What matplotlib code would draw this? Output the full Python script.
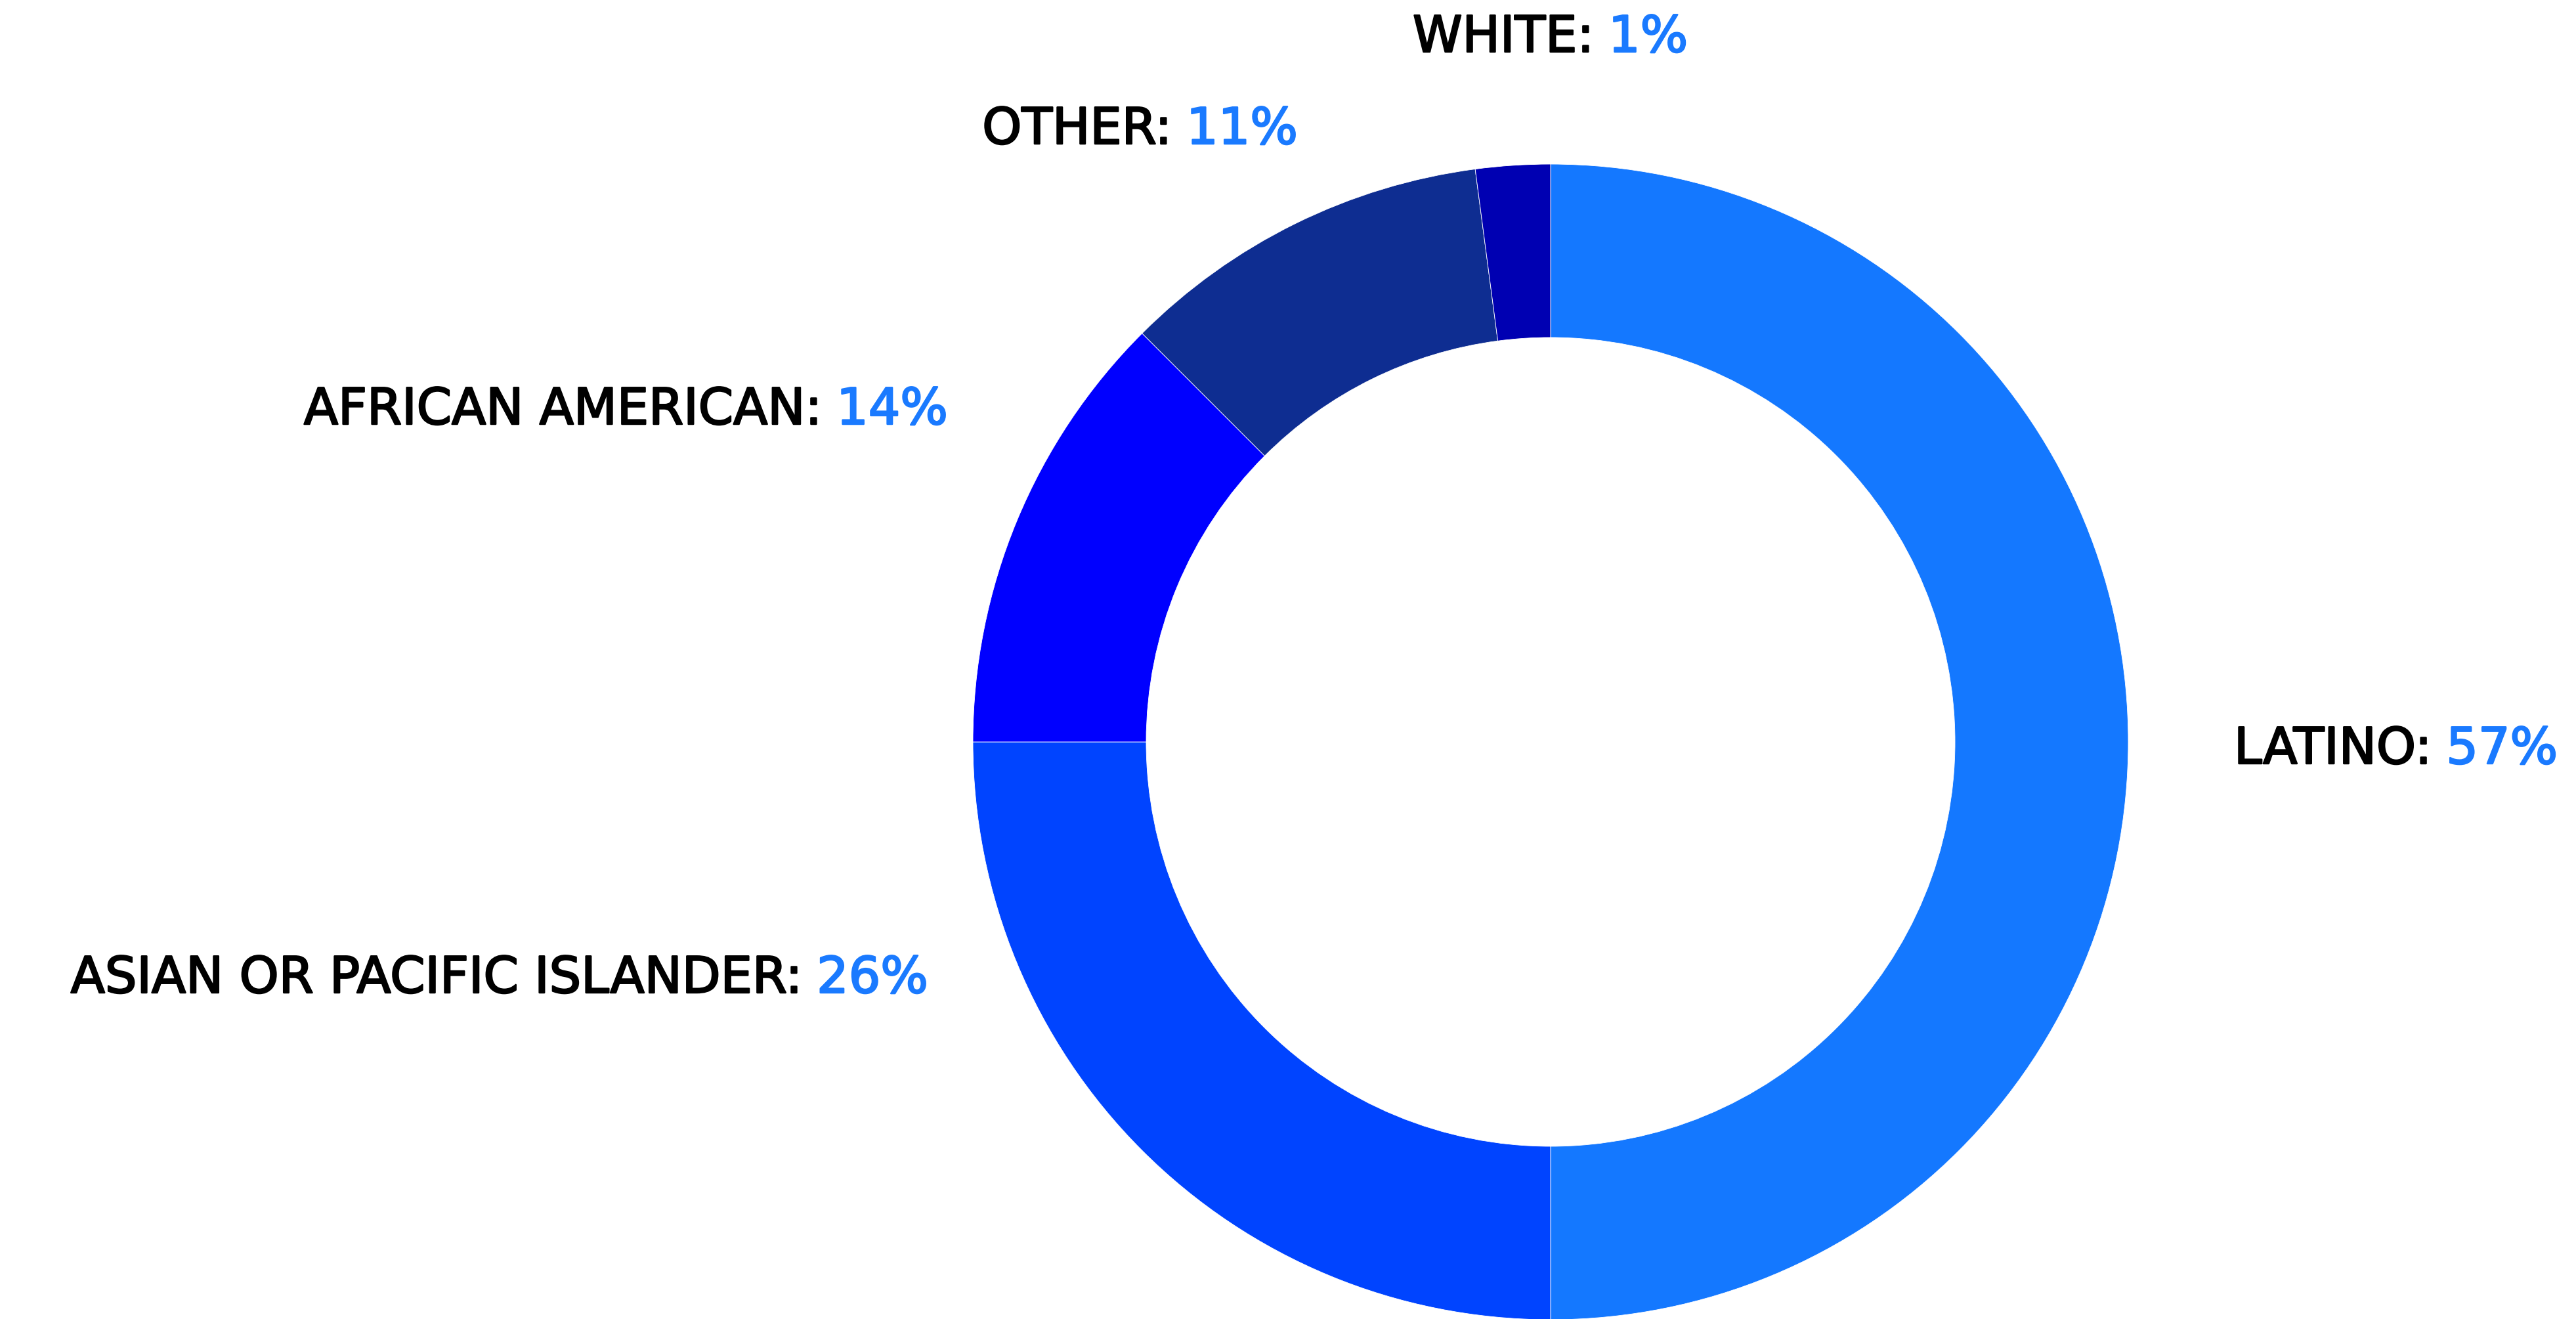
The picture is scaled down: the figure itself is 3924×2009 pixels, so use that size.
import matplotlib
matplotlib.use("Agg")
import matplotlib.pyplot as plt
import matplotlib.patheffects as pe
from matplotlib.transforms import IdentityTransform

# groups, clockwise from 12 o'clock
groups = ["LATINO", "ASIAN OR PACIFIC ISLANDER", "AFRICAN AMERICAN", "OTHER", "WHITE"]
# share of the ring each wedge takes in the picture (arc size)
arc_share = [24, 12, 6, 5, 1]
# percentages as printed on the labels
pct_labels = [57, 26, 14, 11, 1]
colors = ["#1478FF", "#0044FF", "#0000FF", "#0E2D91", "#0000B2"]

W, H = 3924, 2009
fig = plt.figure(figsize=(W / 100, H / 100), dpi=100)
fig.patch.set_facecolor("white")

# ring: centre (2362, 1130) px from top, outer radius 880 px
cx, cy, r = 2362, 1130, 880
ax = fig.add_axes([(cx - r) / W, (H - cy - r) / H, 2 * r / W, 2 * r / H])
ax.pie(arc_share, colors=colors, startangle=90, counterclock=False,
       wedgeprops=dict(width=0.3, edgecolor="white", linewidth=0.6))
ax.set_xlim(-1, 1)
ax.set_ylim(-1, 1)
ax.set_aspect("auto")
ax.axis("off")

# label anchors (x px, baseline px from top, alignment)
label_pos = [(3403, 1163, "left"), (1414, 1512, "right"), (1444, 646, "right"),
             (1977, 219, "right"), (2152, 79, "left")]

fs = 55
gap = 22
renderer = fig.canvas.get_renderer()


def txt(x, y, s, color, ha):
    # a touch heavier than plain DejaVu, closer to the medium weight in the original
    return fig.text(x, y, s, color=color, ha=ha, fontsize=fs, family="DejaVu Sans",
                    va="baseline", transform=IdentityTransform(),
                    path_effects=[pe.withStroke(linewidth=1.8, foreground=color)])


for name, pct, (x, y, ha) in zip(groups, pct_labels, label_pos):
    yy = H - y
    if ha == "left":
        t1 = txt(x, yy, name + ":", "black", "left")
        w1 = t1.get_window_extent(renderer).width
        txt(x + w1 + gap, yy, f"{pct}%", "#1A7AFF", "left")
    else:
        t2 = txt(x, yy, f"{pct}%", "#1A7AFF", "right")
        w2 = t2.get_window_extent(renderer).width
        txt(x - w2 - gap, yy, name + ":", "black", "right")

fig.savefig("out.png", dpi=100, facecolor="white")
